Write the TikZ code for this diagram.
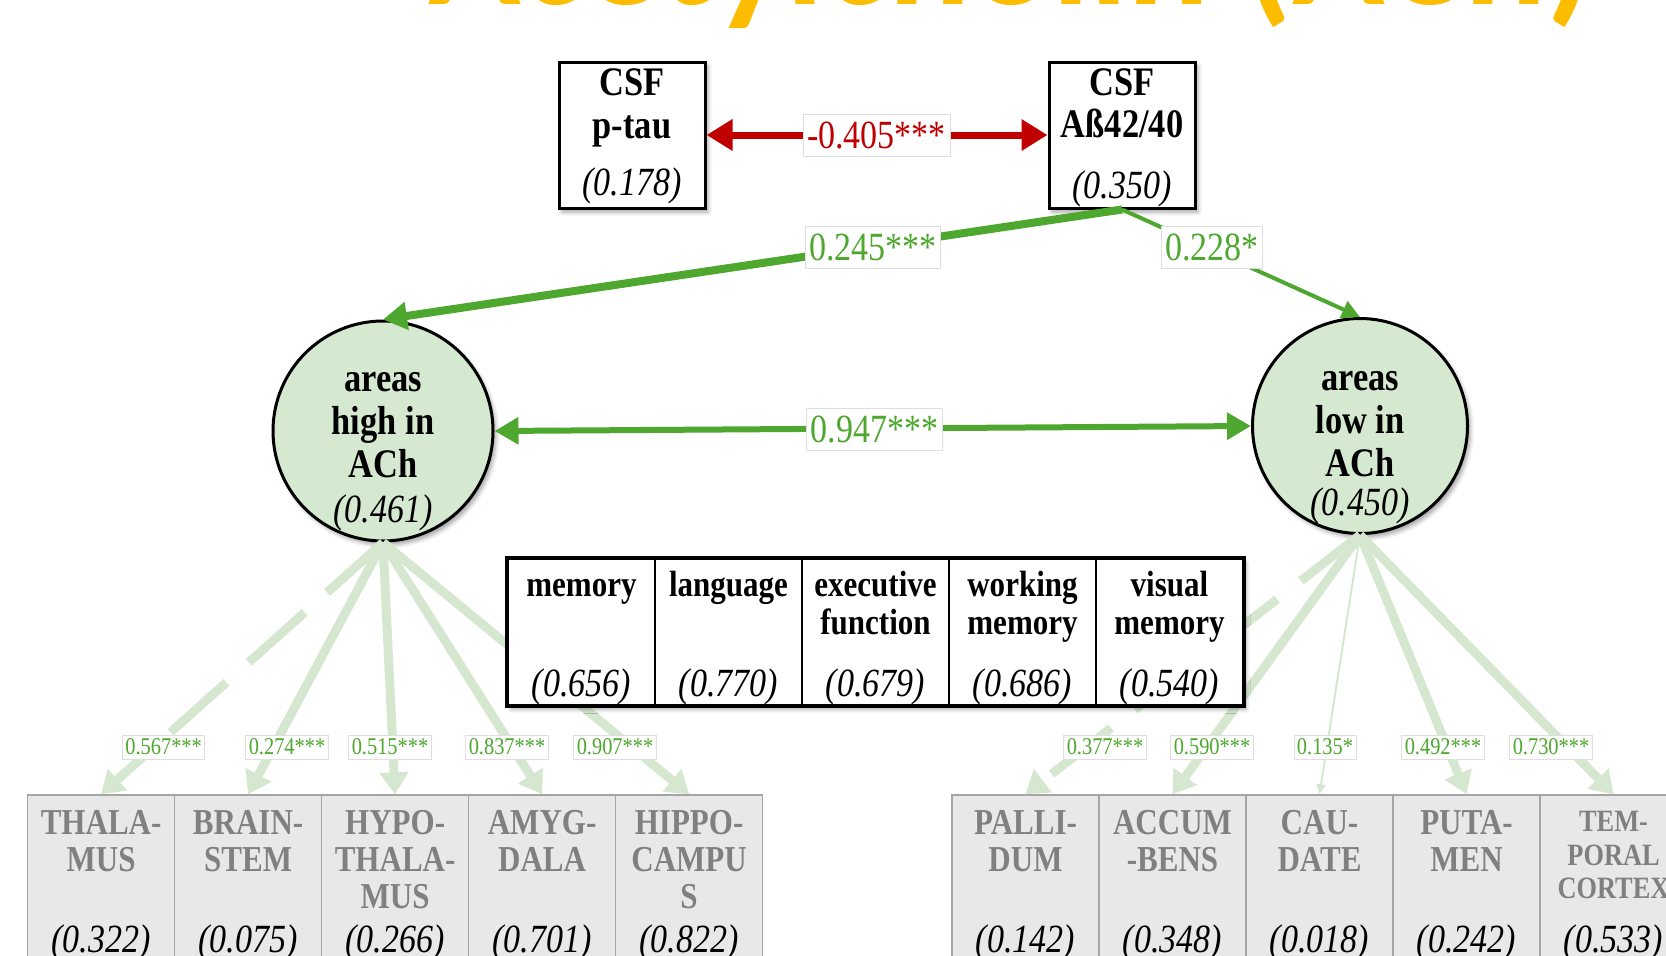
\documentclass[tikz,border=0pt]{standalone}
\usepackage{fontspec}
\setmainfont[FakeStretch=0.85]{Liberation Serif}
\newfontfamily\titlefont{Carlito}
\usetikzlibrary{arrows.meta,shadows,shadows.blur}
\definecolor{achgreen}{RGB}{78,167,46}
\definecolor{lightgreen}{RGB}{213,232,207}
\definecolor{circfill}{RGB}{213,232,208}
\definecolor{corrred}{RGB}{192,0,0}
\definecolor{regionfill}{RGB}{232,232,232}
\definecolor{regionline}{RGB}{165,165,165}
\definecolor{regiontext}{RGB}{128,128,128}
\definecolor{titleorange}{RGB}{252,188,0}
\definecolor{tagline}{RGB}{222,222,222}
\newcommand\headsz{\fontsize{40.5bp}{44bp}\selectfont}
\newcommand\cellsz{\fontsize{36.5bp}{40bp}\selectfont}
\newcommand\valsz{\fontsize{40bp}{44bp}\selectfont}
\newcommand\tinysz{\fontsize{24bp}{26bp}\selectfont}
\begin{document}
\begin{tikzpicture}[x=1bp,y=-1bp,
  softshadow/.style={blur shadow={shadow xshift=3bp, shadow yshift=-4bp, shadow blur radius=4bp, shadow opacity=35}},
  blackbox/.style={draw=black, line width=3bp, fill=white, minimum width=146bp, minimum height=146bp, inner sep=0pt, softshadow},
  latent/.style={circle, draw=black, line width=3bp, fill=circfill, inner sep=0pt, softshadow},
  cell/.style={draw=black, line width=2.5bp, fill=white, minimum width=147bp, minimum height=146.5bp, inner sep=0pt},
  region/.style={draw=regionline, line width=1.5bp, fill=regionfill, minimum width=147bp, minimum height=220bp, inner sep=0pt},
  txt/.style={anchor=base, inner sep=0pt, font=\headsz\bfseries},
  ctxt/.style={anchor=base, inner sep=0pt, font=\cellsz\bfseries},
  rtxt/.style={ctxt, text=regiontext},
  val/.style={anchor=base, inner sep=0pt, font=\valsz\itshape},
  tag/.style={fill=white, draw=tagline, line width=0.8bp, inner xsep=4bp, inner ysep=0pt, minimum height=42bp, font=\valsz},
  smalltag/.style={fill=white, draw=tagline, line width=0.8bp, inner xsep=3bp, inner ysep=0pt, minimum height=24bp, font=\tinysz, text=achgreen},
  loading/.style={draw=lightgreen, line width=9bp, -{Triangle[length=22bp,width=28bp]}},
  brokenline/.style={dash pattern=on 75bp off 30bp}
]
\useasboundingbox (0,0) rectangle (1666,955);
\clip (0,0) rectangle (1666,955);

% heading, only its lower part lies inside the page
\node[anchor=base west, inner sep=0pt, text=titleorange, font=\titlefont\bfseries\fontsize{153bp}{153bp}\selectfont] (title) at (428,4) {Acetylcholin (ACh)};

% brain regions, left block
\node[region] (rThal)  at (101.1,905) {};
\node[region] (rBrain) at (248.1,905) {};
\node[region] (rHypo)  at (395.1,905) {};
\node[region] (rAmyg)  at (542.1,905) {};
\node[region] (rHipp)  at (689.1,905) {};
% brain regions, right block
\node[region] (rPall)  at (1025.5,905) {};
\node[region] (rAccu)  at (1172.5,905) {};
\node[region] (rCaud)  at (1319.5,905) {};
\node[region] (rPuta)  at (1466.5,905) {};
\node[region] (rTemp)  at (1613.5,905) {};

% latent factors
\node[latent, minimum size=220bp] (hiACh) at (383,431) {};
\node[latent, minimum size=215bp] (loACh) at (1360,426) {};

% loadings of the left factor
\draw[loading, brokenline] (hiACh.south) -- (rThal.north);
\draw[loading] (hiACh.south) -- (rBrain.north);
\draw[loading] (hiACh.south) -- (rHypo.north);
\draw[loading] (hiACh.south) -- (rAmyg.north);
\draw[loading] (hiACh.south) -- (rHipp.north);
% loadings of the right factor
\draw[loading, brokenline] (loACh.south) -- (rPall.north);
\draw[loading] (loACh.south) -- (rAccu.north);
\draw[lightgreen, line width=2bp, -{Triangle[length=10bp,width=9bp]}] (loACh.south) -- (rCaud.north);
\draw[loading] (loACh.south) -- (rPuta.north);
\draw[loading] (loACh.south) -- (rTemp.north);

% cognitive domains
\node[draw=black, line width=3bp, fill=white, minimum width=735bp, minimum height=146.5bp, inner sep=0pt, softshadow] (tbl) at (875.5,632) {};
\node[cell] (cMem)  at (581.5,632) {};
\node[cell] (cLang) at (728.5,632) {};
\node[cell] (cExec) at (875.5,632) {};
\node[cell] (cWork) at (1022.5,632) {};
\node[cell] (cVis)  at (1169.5,632) {};
\draw[black, line width=3bp] (tbl.north west) rectangle (tbl.south east);

\node[ctxt] (tMem)   at (581.5,596) {memory};
\node[ctxt] (tLang)  at (728.5,596) {language};
\node[ctxt] (tExecA) at (875.5,596) {executive};
\node[ctxt] (tExecB) at (875.5,634) {function};
\node[ctxt] (tWorkA) at (1022.5,596) {working};
\node[ctxt] (tWorkB) at (1022.5,634) {memory};
\node[ctxt] (tVisA)  at (1169.5,596) {visual};
\node[ctxt] (tVisB)  at (1169.5,634) {memory};
\node[val] (vMem)  at (581.5,696) {(0.656)};
\node[val] (vLang) at (728.5,696) {(0.770)};
\node[val] (vExec) at (875.5,696) {(0.679)};
\node[val] (vWork) at (1022.5,696) {(0.686)};
\node[val] (vVis)  at (1169.5,696) {(0.540)};

% CSF markers
\node[blackbox] (ptau)  at (632,135) {};
\node[blackbox] (abeta) at (1122,135) {};
\node[txt] (ptauA) at (632,95) {CSF};
\node[txt] (ptauB) at (632,138) {p-tau};
\node[val] (ptauV) at (632,195.5) {(0.178)};
\node[txt] (abetaA) at (1122,95) {CSF};
\node[txt] (abetaB) at (1122,137) {Aß42/40};
\node[val] (abetaV) at (1122,198.7) {(0.350)};

% paths between markers and factors
\draw[corrred, line width=7bp, {Triangle[length=26bp,width=30bp]}-{Triangle[length=26bp,width=30bp]}] (ptau) -- (abeta);
\draw[achgreen, line width=8bp, -{Triangle[length=24bp,width=27bp]}] (abeta.south) -- (hiACh.north);
\draw[achgreen, line width=4bp, -{Triangle[length=18bp,width=18bp]}] (abeta.south) -- (loACh.north);
\draw[achgreen, line width=6bp, {Triangle[length=24bp,width=26bp]}-{Triangle[length=24bp,width=26bp]}] (hiACh.east) -- (loACh.west);

\node[tag, text=corrred]  (kRed)  at (876.5,135) {-0.405***};
\node[tag, text=achgreen] (kHi)   at (873,247.5) {0.245***};
\node[tag, text=achgreen] (kLo)   at (1212,247.5) {0.228*};
\node[tag, text=achgreen] (kCorr) at (874.5,429) {0.947***};

% factor labels
\node[txt] (hiA) at (383,391) {areas};
\node[txt] (hiB) at (383,434) {high in};
\node[txt] (hiC) at (383,477) {ACh};
\node[val] (hiV) at (383,522) {(0.461)};
\node[txt] (loA) at (1360,390) {areas};
\node[txt] (loB) at (1360,433) {low in};
\node[txt] (loC) at (1360,476) {ACh};
\node[val] (loV) at (1360,515) {(0.450)};

% loading values
\node[smalltag] (lThal)  at (163.6,747) {0.567***};
\node[smalltag] (lBrain) at (287,747) {0.274***};
\node[smalltag] (lHypo)  at (390,747) {0.515***};
\node[smalltag] (lAmyg)  at (507,747) {0.837***};
\node[smalltag] (lHipp)  at (615,747) {0.907***};
\node[smalltag] (lPall)  at (1105,747) {0.377***};
\node[smalltag] (lAccu)  at (1212,747) {0.590***};
\node[smalltag] (lCaud)  at (1325,747) {0.135*};
\node[smalltag] (lPuta)  at (1443,747) {0.492***};
\node[smalltag] (lTemp)  at (1551,747) {0.730***};

% region names and residual values
\node[rtxt] (nThalA) at (101.1,834) {THALA-};
\node[rtxt] (nThalB) at (101.1,871) {MUS};
\node[val]  (nThalV) at (101.1,952) {(0.322)};
\node[rtxt] (nBrainA) at (248.1,834) {BRAIN-};
\node[rtxt] (nBrainB) at (248.1,871) {STEM};
\node[val]  (nBrainV) at (248.1,952) {(0.075)};
\node[rtxt] (nHypoA) at (395.1,834) {HYPO-};
\node[rtxt] (nHypoB) at (395.1,871) {THALA-};
\node[rtxt] (nHypoC) at (395.1,908.5) {MUS};
\node[val]  (nHypoV) at (395.1,952) {(0.266)};
\node[rtxt] (nAmygA) at (542.1,834) {AMYG-};
\node[rtxt] (nAmygB) at (542.1,871) {DALA};
\node[val]  (nAmygV) at (542.1,952) {(0.701)};
\node[rtxt] (nHippA) at (689.1,834) {HIPPO-};
\node[rtxt] (nHippB) at (689.1,871) {CAMPU};
\node[rtxt] (nHippC) at (689.1,908.5) {S};
\node[val]  (nHippV) at (689.1,952) {(0.822)};

\node[rtxt] (nPallA) at (1025.5,834) {PALLI-};
\node[rtxt] (nPallB) at (1025.5,871) {DUM};
\node[val]  (nPallV) at (1025.5,952) {(0.142)};
\node[rtxt] (nAccuA) at (1172.5,834) {ACCUM};
\node[rtxt] (nAccuB) at (1172.5,871) {-BENS};
\node[val]  (nAccuV) at (1172.5,952) {(0.348)};
\node[rtxt] (nCaudA) at (1319.5,834) {CAU-};
\node[rtxt] (nCaudB) at (1319.5,871) {DATE};
\node[val]  (nCaudV) at (1319.5,952) {(0.018)};
\node[rtxt] (nPutaA) at (1466.5,834) {PUTA-};
\node[rtxt] (nPutaB) at (1466.5,871) {MEN};
\node[val]  (nPutaV) at (1466.5,952) {(0.242)};
\node[rtxt, font=\fontsize{31bp}{34bp}\selectfont\bfseries] (nTempA) at (1613.5,831) {TEM-};
\node[rtxt, font=\fontsize{31bp}{34bp}\selectfont\bfseries] (nTempB) at (1613.5,865) {PORAL};
\node[rtxt, font=\fontsize{31bp}{34bp}\selectfont\bfseries] (nTempC) at (1613.5,898) {CORTEX};
\node[val]  (nTempV) at (1613.5,952) {(0.533)};
\end{tikzpicture}
\end{document}
